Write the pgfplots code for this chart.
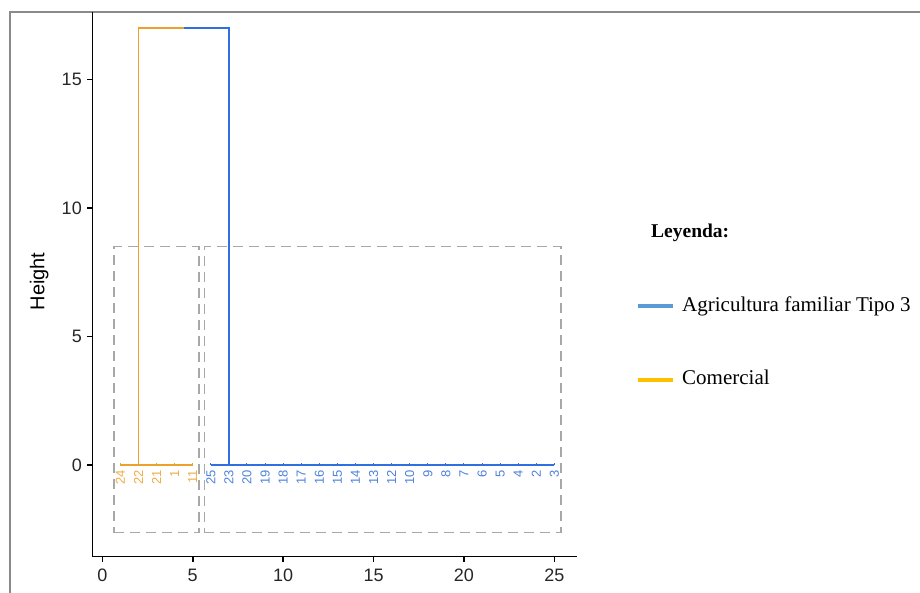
\documentclass[border=0pt]{standalone}
\usepackage{fontspec}
\setmainfont{Liberation Serif}
\newfontfamily\arial{Liberation Sans}
\usepackage{pgfplots}
\pgfplotsset{compat=1.18}
\definecolor{dorange}{HTML}{EBA22A}
\definecolor{dblue}{HTML}{2F6FDF}
\definecolor{lorange}{HTML}{EDAE45}
\definecolor{lblue}{HTML}{4F82DB}
\definecolor{legblue}{HTML}{5B9BD5}
\definecolor{legorange}{HTML}{FFC000}
\definecolor{framegray}{HTML}{8A8A8A}
\definecolor{rectgray}{HTML}{A8A8A8}
\begin{document}
\begin{tikzpicture}[x=1pt,y=1pt]
\useasboundingbox (0,0) rectangle (920,593);
\draw[framegray, line width=2pt] (10,0) -- (10,581) -- (921,581);
\begin{axis}[
  at={(92.3pt,36.3pt)}, anchor=south west,
  scale only axis, width=484.7pt, height=544.7pt,
  xmin=-0.553, xmax=26.25, ymin=-3.57, ymax=17.62,
  axis x line*=bottom, axis y line*=left,
  axis line style={-, line width=1.6pt, black},
  tick align=outside, major tick length=5pt,
  tick style={line width=1.6pt, black},
  xtick={0,5,...,25}, ytick={0,5,10,15},
  ticklabel style={font=\arial\fontsize{18}{20}\selectfont, text=black!85},
  xticklabel style={yshift=-4pt},
  yticklabel style={xshift=-2pt},
  /pgf/number format/assume math mode=true,
  clip=false,
  ylabel={Height},
  every axis y label/.style={at={(rel axis cs:0,0.5)}, xshift=-53pt, yshift=3pt, rotate=90, anchor=center, font=\arial\fontsize{20}{22}\selectfont},
]
% cluster rectangles
\addplot[rectgray, line width=1.6pt, dash pattern=on 10pt off 6pt] coordinates {(0.65,-2.63) (5.35,-2.63) (5.35,8.49) (0.65,8.49) (0.65,-2.63)};
\addplot[rectgray, line width=1.6pt, dash pattern=on 10pt off 6pt] coordinates {(5.65,-2.63) (25.35,-2.63) (25.35,8.49) (5.65,8.49) (5.65,-2.63)};
% dendrogram - Comercial
\addplot[dorange, line width=1.9pt] coordinates {(1,0) (5,0)};
\addplot[dorange, line width=1.9pt] coordinates {(2,0) (2,17) (4.5,17)};
\addplot[dorange, ycomb, line width=1pt] coordinates {(1,0.06) (2,0.06) (3,0.06) (4,0.06) (5,0.06)};
% dendrogram - Agricultura familiar Tipo 3
\addplot[dblue, line width=1.9pt] coordinates {(6,0) (25,0)};
\addplot[dblue, line width=1.9pt] coordinates {(4.5,17) (7,17) (7,0)};
\addplot[dblue, ycomb, line width=1pt] coordinates {(6,0.06) (7,0.06) (8,0.06) (9,0.06) (10,0.06) (11,0.06) (12,0.06) (13,0.06) (14,0.06) (15,0.06) (16,0.06) (17,0.06) (18,0.06) (19,0.06) (20,0.06) (21,0.06) (22,0.06) (23,0.06) (24,0.06) (25,0.06)};
% leaf labels
\addplot[draw=none, mark=none, nodes near coords, point meta=explicit symbolic,
  nodes near coords align={anchor=east},
  every node near coord/.append style={rotate=90, anchor=east, inner sep=0pt, font=\arial\fontsize{13}{14}\selectfont, text=lorange}]
  table[meta=label] {
x y label
1 -0.2 24
2 -0.2 22
3 -0.2 21
4 -0.2 1
5 -0.2 11
};
\addplot[draw=none, mark=none, nodes near coords, point meta=explicit symbolic,
  nodes near coords align={anchor=east},
  every node near coord/.append style={rotate=90, anchor=east, inner sep=0pt, font=\arial\fontsize{13}{14}\selectfont, text=lblue}]
  table[meta=label] {
x y label
6 -0.2 25
7 -0.2 23
8 -0.2 20
9 -0.2 19
10 -0.2 18
11 -0.2 17
12 -0.2 16
13 -0.2 15
14 -0.2 14
15 -0.2 13
16 -0.2 12
17 -0.2 10
18 -0.2 9
19 -0.2 8
20 -0.2 7
21 -0.2 6
22 -0.2 5
23 -0.2 4
24 -0.2 2
25 -0.2 3
};
\end{axis}
% legend
\node[anchor=base west, inner sep=0pt, font=\bfseries\fontsize{19.5}{22}\selectfont] at (651,355.3) {Leyenda:};
\draw[legblue, line width=3.5pt] (638,287) -- (673,287);
\node[anchor=base west, inner sep=0pt, font=\fontsize{21}{24}\selectfont] at (682,281.3) {Agricultura familiar Tipo 3};
\draw[legorange, line width=3.5pt] (638,213) -- (673,213);
\node[anchor=base west, inner sep=0pt, font=\fontsize{21}{24}\selectfont] at (682,208) {Comercial};
\end{tikzpicture}
\end{document}
